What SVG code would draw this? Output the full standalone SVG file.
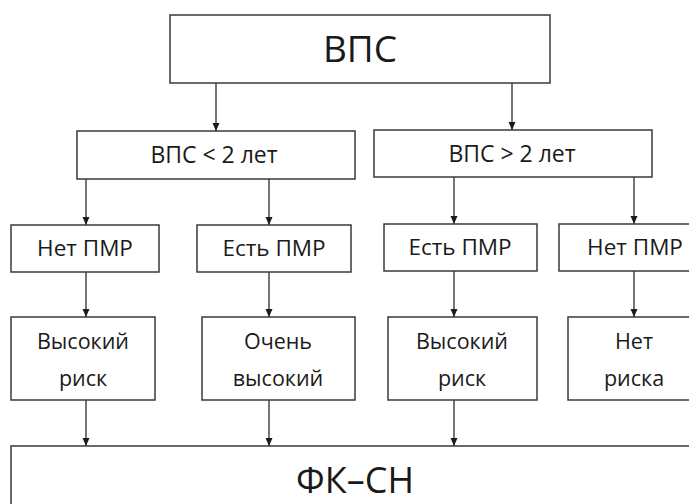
<svg xmlns="http://www.w3.org/2000/svg" width="689" height="504" viewBox="0 0 689 504">
<style>
.box{fill:#fff;stroke:#3a3a3a;stroke-width:1.5}
.t{font-family:"Open Sans","DejaVu Sans",sans-serif;fill:#1a1a1a;text-anchor:middle}
.s2{font-size:23px}
.s3{font-size:22.5px}
.s4{font-size:21.5px}
.c{stroke:#1a1a1a;stroke-width:1.2;fill:none;marker-end:url(#ah)}
</style>
<defs>
<marker id="ah" markerUnits="userSpaceOnUse" markerWidth="9" markerHeight="8" refX="8" refY="4" orient="auto">
<path d="M0,0.5 L8,4 L0,7.5 z" fill="#1a1a1a"/>
</marker>
</defs>
<rect width="689" height="504" fill="#fff"/>
<g id="connectors">
<line class="c" x1="216" y1="83" x2="216" y2="131"/>
<line class="c" x1="512" y1="83" x2="512" y2="130"/>
<line class="c" x1="86" y1="179" x2="86" y2="225"/>
<line class="c" x1="269" y1="179" x2="269" y2="225"/>
<line class="c" x1="454" y1="177" x2="454" y2="224"/>
<line class="c" x1="634" y1="177" x2="634" y2="224"/>
<line class="c" x1="86" y1="272" x2="86" y2="317"/>
<line class="c" x1="269" y1="272" x2="269" y2="317"/>
<line class="c" x1="454" y1="271" x2="454" y2="317"/>
<line class="c" x1="634" y1="271" x2="634" y2="317"/>
<line class="c" x1="86" y1="400" x2="86" y2="446"/>
<line class="c" x1="269" y1="400" x2="269" y2="446"/>
<line class="c" x1="454" y1="400" x2="454" y2="446"/>
</g>
<g id="n-vps">
<rect class="box" x="170" y="15" width="380" height="68"/>
<text class="t" x="360" y="62" font-size="37">ВПС</text>
</g>
<g id="n-lt2">
<rect class="box" x="77" y="131" width="278" height="48"/>
<text class="t s2" x="214" y="163">ВПС &lt; 2 лет</text>
</g>
<g id="n-gt2">
<rect class="box" x="374" y="130" width="278" height="47"/>
<text class="t s2" x="512" y="162">ВПС &gt; 2 лет</text>
</g>
<g id="n-r3a">
<rect class="box" x="11" y="225" width="148" height="47"/>
<text class="t s3" x="85" y="256">Нет ПМР</text>
</g>
<g id="n-r3b">
<rect class="box" x="197" y="225" width="154" height="47"/>
<text class="t s3" x="274" y="256">Есть ПМР</text>
</g>
<g id="n-r3c">
<rect class="box" x="384" y="224" width="153" height="47"/>
<text class="t s3" x="460" y="255">Есть ПМР</text>
</g>
<g id="n-r3d">
<rect class="box" x="559" y="224" width="140" height="47"/>
<text class="t s3" x="635" y="255">Нет ПМР</text>
</g>
<g id="n-r4a">
<rect class="box" x="11" y="317" width="144" height="83"/>
<text class="t s4" x="83" y="349">Высокий</text>
<text class="t s4" x="83" y="386">риск</text>
</g>
<g id="n-r4b">
<rect class="box" x="202" y="317" width="153" height="83"/>
<text class="t s4" x="278" y="349">Очень</text>
<text class="t s4" x="278" y="386">высокий</text>
</g>
<g id="n-r4c">
<rect class="box" x="388" y="317" width="149" height="83"/>
<text class="t s4" x="462" y="349">Высокий</text>
<text class="t s4" x="462" y="386">риск</text>
</g>
<g id="n-r4d">
<rect class="box" x="568" y="317" width="130" height="83"/>
<text class="t s4" x="634" y="349">Нет</text>
<text class="t s4" x="634" y="386">риска</text>
</g>
<g id="n-fk">
<rect class="box" x="11" y="446" width="700" height="80"/>
<text class="t" x="355" y="493" font-size="36">ФК–СН</text>
</g>
</svg>
